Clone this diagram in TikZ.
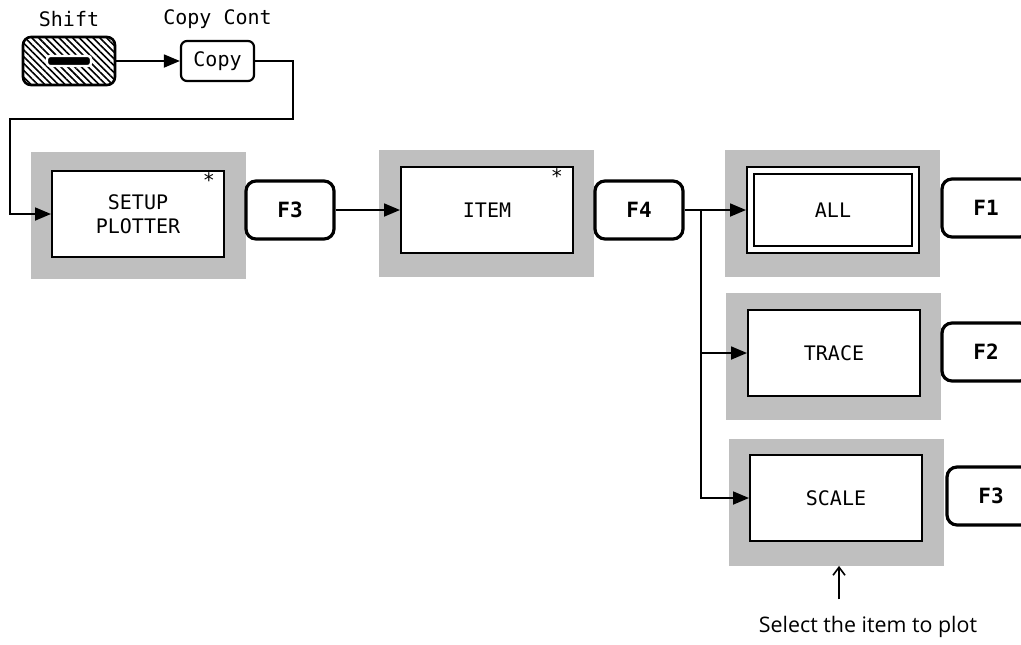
\documentclass[tikz,border=0pt]{standalone}
\usepackage{fontspec}
\setmonofont{DejaVu Sans Mono}
\setsansfont{Open Sans}
\usetikzlibrary{arrows.meta,positioning,calc,patterns.meta}

\tikzset{
  arr/.style={-{Triangle[length=8pt,width=6.5pt]},line width=0.9pt},
  shadebg/.style={fill=black!25,minimum width=107.5pt,minimum height=63.5pt,inner sep=0pt},
  menubox/.style={draw,line width=1pt,fill=white,minimum width=86pt,minimum height=43pt,
    inner sep=0pt,align=center,font=\ttfamily\fontsize{10}{12}\selectfont},
  fkey/.style={draw,line width=1.6pt,rounded corners=5pt,fill=white,minimum width=44pt,
    minimum height=29pt,font=\ttfamily\bfseries\fontsize{10.5}{12}\selectfont},
  keylbl/.style={font=\ttfamily\fontsize{10}{12}\selectfont},
  star/.style={inner sep=0pt,font=\ttfamily\fontsize{10}{12}\selectfont}
}

\begin{document}
\begin{tikzpicture}[x=0.5pt,y=-0.5pt]
\clip (0,0) rectangle (1021,644);
\fill[white] (0,0) rectangle (1021,644);

\node[draw,line width=1.3pt,rounded corners=4pt,minimum width=46pt,minimum height=24pt,
  pattern={Lines[angle=-45,distance=2.4pt,line width=0.8pt]}] (shift) at (69,61) {};
\fill[draw=white,line width=1.2pt,rounded corners=1.5pt] ($(shift)+(-11pt,-2.5pt)$) rectangle ($(shift)+(11pt,2.5pt)$);
\node[keylbl,above=1pt of shift] {Shift};
\node[draw,line width=1.1pt,rounded corners=3pt,minimum width=36.5pt,minimum height=20pt,keylbl] (copy) at (217.5,61) {Copy};
\node[keylbl,above=2pt of copy] {Copy Cont};

\node[shadebg] (setupbg) at (138,215.5) {};
\node[menubox] (setup) at (138,214) {SETUP\\PLOTTER};
\node[star] at ($(setup.north east)+(-8pt,-5pt)$) {*};
\node[fkey] (fthree) at (290,210) {F3};

\node[shadebg] (itembg) at (486.5,213) {};
\node[menubox] (item) at (487,210) {ITEM};
\node[star] at ($(item.north east)+(-8.5pt,-5pt)$) {*};
\node[fkey] (ffour) at (639,210) {F4};

\node[shadebg] (allbg) at (832.5,213.5) {};
\node[menubox] (all) at (833,210) {ALL};
\draw[line width=0.7pt] ($(all.south west)+(4pt,4pt)$) rectangle ($(all.north east)+(-4pt,-4pt)$);
\node[fkey] (fone) at (986,208) {F1};

\node[shadebg] (tracebg) at (833,356.5) {};
\node[menubox] (trace) at (834,353) {TRACE};
\node[fkey] (ftwo) at (986,352) {F2};

\node[shadebg] (scalebg) at (836,502) {};
\node[menubox] (scale) at (836,498) {SCALE};
\node[fkey] (fthreeb) at (991,496) {F3};

\node[font=\sffamily\fontsize{10.7}{12}\selectfont] (note) at (868,627) {Select the item to plot};
\coordinate (pick) at ([xshift=-14.5pt,yshift=5pt]note.north);

\coordinate (split) at (701,210);
\draw[arr] (shift) -- (copy);
\draw[arr] (copy.east) -| (293,119) -- (10,119) |- (setup.west);
\draw[arr] (fthree) -- (item);
\draw[arr] (ffour) -- (all);
\draw[arr] (split) |- (trace);
\draw[arr] (split) |- (scale);
\draw[-{Straight Barb[length=4pt,width=6pt]},line width=0.8pt] (pick) -- (pick |- scalebg.south);
\end{tikzpicture}
\end{document}
